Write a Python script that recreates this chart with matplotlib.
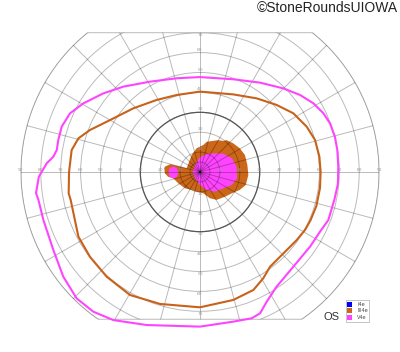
import numpy as np
import matplotlib
matplotlib.use("Agg")
import matplotlib.pyplot as plt
from matplotlib.patches import Polygon, Rectangle, Circle
from matplotlib.path import Path
from matplotlib.patches import PathPatch

# isopters, x/y in degrees (x: + right, y: + up)
iii4eX = [60.6, 60, 57.8, 53.6, 46.9, 38.5, 28.5, 16.7, 0, -11.7, -21.8, -33.5, -45.2, -55.3, -61.1,
          -64.5, -65.8, -66, -65, -61.1, -55.3, -46.9, -35.2, -20.1, 0, 16.7, 26.8, 31.8, 35.2, 41.9,
          48.6, 52.8, 55.6, 58.5, 60.3]
iii4eY = [0, 7.7, 16.1, 22.8, 29.5, 33.7, 37, 39, 40.4, 38.7, 36.2, 32, 26.1, 21.1, 16.9,
          11, 0, -10.7, -14, -32.5, -42.6, -52.6, -61.8, -66.3, -68, -64.3, -59.3, -53.4, -47.6, -40.9,
          -34.2, -29.1, -24.1, -17, -8]

v4eX = [69.5, 69, 67.8, 65.3, 62, 57, 50.3, 41.9, 30.2, 16.7, 0, -11.7, -25.1, -38.5, -48.6, -58.6,
        -65.3, -69.5, -71.2, -72, -73.7, -75.4, -77, -81, -82.4, -81.2, -78.7, -73.7, -68.7, -62, -53.6,
        -43.6, -26.8, 0, 16.7, 26, 30.2, 33.5, 38.5, 46.9, 55.3, 60.3, 64.5, 67.5, 69.3]
v4eY = [2.7, 11, 17.7, 24.5, 29.5, 34.5, 38.7, 42, 44.9, 46.6, 47.7, 47.1, 45.4, 42.9, 39.5, 34.5,
        29.5, 22.8, 16.1, 11, 7.7, 6, 4.4, -2.4, -10.6, -14, -24.1, -39.2, -52.6, -63.5, -70.2,
        -74.4, -76.9, -77.7, -75.2, -73.5, -71, -65.2, -57.6, -47.6, -37.5, -30, -24.1, -14, -6]

# central filled areas
iii4eFillX = [-18, -17.6, -15, -10, -6.7, -4.2, -1.7, 1.7, 3.4, 9.2, 11.7, 13.4, 16.7, 20, 22.6, 23.8,
              24.3, 23, 20, 16, 12.6, 8.4, 5, 1.7, -1.7, -4.2, -7.5, -10.9, -13.4, -16, -17.6]
iii4eFillY = [1.9, 2.7, 3.9, 2.7, 1.9, 8.5, 11.9, 13.6, 15.2, 16, 15.6, 16, 14.4, 11.9, 8.5, 3.5,
              -1.5, -6.5, -9, -10.7, -12.4, -14, -13.2, -10.7, -9.9, -9, -8.2, -5.7, -3.2, -2.4, -0.7]

v4eFillX = [-3.7, -2, 0, 3.4, 6.7, 11.7, 16, 18.4, 18.6, 16, 11.7, 7.5, 3.4, 0, -2.5]
v4eFillY = [0.2, 4.5, 7.5, 9, 9.4, 9.2, 6.9, 2.7, -3.2, -6.5, -8.2, -9.9, -9, -6.5, -3.2]

v4eSpotX = [-15.9, -15.2, -13.4, -11.6, -10.9, -11.6, -13.4, -15.2]
v4eSpotY = [-0.3, 2.0, 2.7, 2.0, -0.3, -2.5, -3.3, -2.5]

legendNames = ["I4e", "III4e", "V4e"]
legendColors = ["#0000FF", "#CC6619", "#FF44FF"]

ringRadii = [5, 10, 20, 30, 40, 50, 60, 70, 80, 90]
spokeAngles = np.arange(0, 360, 15)
topCut = 70
bottomCut = -74

orange = "#C8621A"
magenta = "#FF44FF"

pxPerDeg = 1.99
fig = plt.figure(figsize=(4.0, 3.52), dpi=100)
ax = fig.add_axes([0, 0, 1, 1])
ax.set_xlim(-200 / pxPerDeg, 200 / pxPerDeg)
ax.set_ylim((172 - 352) / pxPerDeg, 172 / pxPerDeg)
ax.set_aspect("equal")
ax.axis("off")

# clip region: circle of 90 cut at top and bottom
th = np.linspace(0, 2 * np.pi, 721)
cx, cy = 90 * np.cos(th), 90 * np.sin(th)
cy = np.clip(cy, bottomCut, topCut)
clipPatch = PathPatch(Path(np.column_stack([cx, cy])), facecolor="none", edgecolor="black",
                      alpha=0.27, lw=0.7, zorder=2)
ax.add_patch(clipPatch)

# dark with low alpha, so lines over the fills look like darker fill
for r in ringRadii:
    c = Circle((0, 0), r, fill=False, lw=0.7, edgecolor="black", alpha=0.27, zorder=2)
    ax.add_patch(c)
    c.set_clip_path(clipPatch)
c30 = Circle((0, 0), 30, fill=False, lw=0.9, edgecolor="#555555", zorder=2.1)
ax.add_patch(c30)
for a in spokeAngles:
    ln, = ax.plot([0, 95 * np.cos(np.radians(a))], [0, 95 * np.sin(np.radians(a))],
                  color="black", lw=0.7, alpha=0.27, zorder=2)
    ln.set_clip_path(clipPatch)

# tick labels
for r in range(10, 100, 10):
    for s in (-1, 1):
        ax.text(s * r, 0.9, str(r), fontsize=3.2, color="#999999", ha="center", va="center", zorder=2.5)
for r in range(10, 80, 10):
    ty = r + 1.5 if r < 70 else r - 1.2
    ax.text(0, ty, str(r), fontsize=3.2, color="#999999", ha="center", va="center", zorder=2.5)
    ax.text(0, -r - 1.2, str(r), fontsize=3.2, color="#999999", ha="center", va="center", zorder=2.5)

# filled central areas
ax.add_patch(Polygon(np.column_stack([iii4eFillX, iii4eFillY]), closed=True,
                     facecolor="#CC6619", edgecolor="none", zorder=1))
ax.add_patch(Polygon(np.column_stack([v4eFillX, v4eFillY]), closed=True,
                     facecolor=magenta, edgecolor="none", zorder=1.1))
ax.add_patch(Polygon(np.column_stack([v4eSpotX, v4eSpotY]), closed=True,
                     facecolor=magenta, edgecolor="none", zorder=1.1))

# isopter lines
ax.add_patch(Polygon(np.column_stack([iii4eX, iii4eY]), closed=True, fill=False,
                     edgecolor=orange, lw=1.5, joinstyle="round", zorder=3))
ax.add_patch(Polygon(np.column_stack([v4eX, v4eY]), closed=True, fill=False,
                     edgecolor=magenta, lw=1.5, joinstyle="round", zorder=3))

# overlay in pixel coordinates for texts and legend
ov = fig.add_axes([0, 0, 1, 1])
ov.set_xlim(0, 400)
ov.set_ylim(352, 0)
ov.axis("off")
ov.patch.set_alpha(0)

ov.text(398, 8, "\u00a9StoneRoundsUIOWA", fontsize=10, family="Liberation Sans",
        ha="right", va="center", color="#222222")
ov.text(331, 316.5, "OS", fontsize=8, family="Liberation Sans", ha="center", va="center", color="#333333")
ov.add_patch(Rectangle((345.5, 300), 23.5, 22, facecolor="white", edgecolor="#BBBBBB", lw=0.6))
for i, (name, col) in enumerate(zip(legendNames, legendColors)):
    y0 = 301.5 + i * 6.7
    ov.add_patch(Rectangle((347, y0), 5.2, 5.2, facecolor=col, edgecolor="none"))
    ov.text(357, y0 + 2.6, name, fontsize=3.6, color="#444444", ha="left", va="center")

fig.savefig("out.png", dpi=100)
